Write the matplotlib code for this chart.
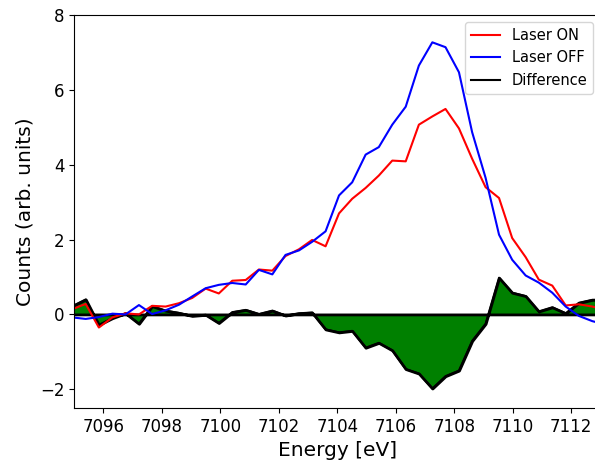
import matplotlib
matplotlib.use('Agg')
import matplotlib.pyplot as plt
import numpy as np

# energy grid of the scan (eV)
energy = [7094.94, 7095.40, 7095.85, 7096.31, 7096.76, 7097.22, 7097.67,
          7098.13, 7098.59, 7099.04, 7099.50, 7099.95, 7100.41, 7100.87,
          7101.32, 7101.78, 7102.23, 7102.69, 7103.14, 7103.60, 7104.06,
          7104.51, 7104.97, 7105.42, 7105.88, 7106.34, 7106.79, 7107.25,
          7107.70, 7108.16, 7108.61, 7109.07, 7109.53, 7109.98, 7110.44,
          7110.89, 7111.35, 7111.81, 7112.26, 7112.72, 7113.17]

laser_on = [0.14, 0.28, -0.35, -0.08, 0.03, 0.00, 0.23, 0.21, 0.30, 0.44,
            0.69, 0.56, 0.90, 0.92, 1.20, 1.17, 1.56, 1.74, 1.99, 1.82,
            2.70, 3.09, 3.38, 3.71, 4.11, 4.09, 5.07, 5.29, 5.49, 4.97,
            4.16, 3.40, 3.11, 2.04, 1.53, 0.93, 0.77, 0.24, 0.27, 0.21, 0.12]

laser_off = [-0.08, -0.12, -0.07, 0.02, 0.00, 0.25, 0.01, 0.11, 0.26, 0.48,
             0.70, 0.79, 0.84, 0.80, 1.19, 1.07, 1.59, 1.71, 1.94, 2.22,
             3.18, 3.53, 4.27, 4.47, 5.07, 5.55, 6.65, 7.27, 7.14, 6.47,
             4.87, 3.65, 2.13, 1.46, 1.04, 0.85, 0.58, 0.21, -0.04, -0.18, -0.27]

energy = np.array(energy)
laser_on = np.array(laser_on)
laser_off = np.array(laser_off)
diff = laser_on - laser_off

fig = plt.figure(figsize=(5.95, 4.63), dpi=100)
ax = fig.add_axes([0.1244, 0.1188, 0.8849, 0.8488])

# filled difference, black outline also gives the zero baseline
ax.fill_between(energy, diff, 0, facecolor='green', edgecolor='black',
                linewidth=2, zorder=1)
ax.plot(energy, laser_on, color='red', lw=1.5, label='Laser ON')
ax.plot(energy, laser_off, color='blue', lw=1.5, label='Laser OFF')
ax.plot(energy, diff, color='black', lw=1.5, label='Difference', zorder=1.5)

ax.set_xlim(7095, 7113)
ax.set_ylim(-2.5, 8)
ax.set_xticks(np.arange(7096, 7113, 2))
ax.tick_params(labelsize=12)
ax.set_xlabel('Energy [eV]', fontsize=14.5)
ax.set_ylabel('Counts (arb. units)', fontsize=14.5)
ax.legend(loc='upper right', fontsize=10.5)

fig.savefig('out.png', dpi=100)
